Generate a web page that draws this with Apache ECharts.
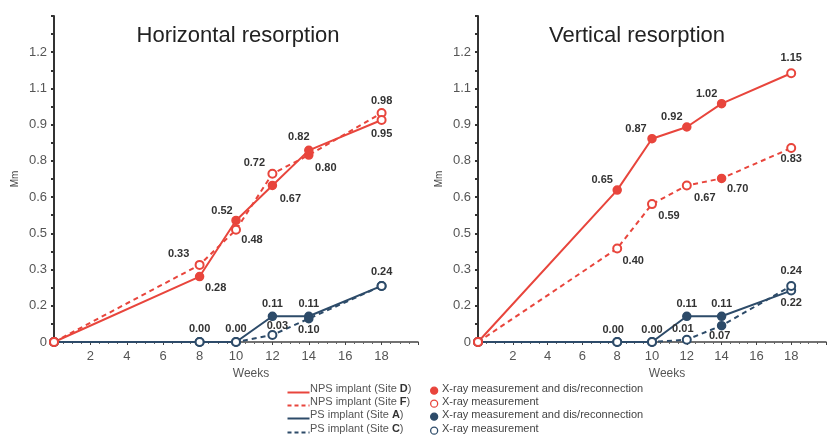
<!DOCTYPE html>
<html>
<head>
<meta charset="utf-8">
<script src="https://cdn.jsdelivr.net/npm/echarts@6/dist/echarts.min.js"></script>
<style>
  html, body { margin: 0; padding: 0; background: #fff; }
  #main { width: 829px; height: 436px; }
</style>
</head>
<body>
<div id="main"></div>
<script>
// weeks where x-ray was taken
var weeks = [0, 8, 10, 12, 14, 18];

// horizontal resorption (mm)
var hD = [0, 0.28, 0.52, 0.67, 0.82, 0.95];
var hF = [0, 0.33, 0.48, 0.72, 0.80, 0.98];
var hA = [0, 0.00, 0.00, 0.11, 0.11, 0.24];
var hC = [0, 0.00, 0.00, 0.03, 0.10, 0.24];

// vertical resorption (mm)
var vD = [0, 0.65, 0.87, 0.92, 1.02, 1.15];
var vF = [0, 0.40, 0.59, 0.67, 0.70, 0.83];
var vA = [0, 0.00, 0.00, 0.11, 0.11, 0.22];
var vC = [0, 0.00, 0.00, 0.01, 0.07, 0.24];

// 1 = x-ray measurement and dis/reconnection (filled dot)
var recD = [0, 1, 1, 1, 1, 0];
var recF = [0, 0, 0, 0, 1, 0];
var recA = [0, 0, 0, 1, 1, 0];
var recC = [0, 0, 0, 0, 1, 0];

// y tick labels as printed in the figure
var yTickLabels = ['0', '0.2', '0.3', '0.5', '0.6', '0.8', '0.9', '1.1', '1.2'];
var yStep = 0.155;

// label offsets (px) around each point, null = no label
var hOffD = [null, [16, 11], [-14, -10], [18, 14], [-10, -13], [0, 14]];
var hOffF = [null, [-21, -11], [16, 10], [-18, -11], [17, 13], [0, -12]];
var hOffA = [null, [0, -13], [0, -13], [0, -12], [0, -12], [0, -14]];
var hOffC = [null, null, null, [5, -9], [0, 11], null];
var vOffD = [null, [-15, -10], [-16, -10], [-15, -10], [-15, -10], [0, -15]];
var vOffF = [null, [16, 12], [17, 12], [18, 13], [16, 11], [0, 11]];
var vOffA = [null, [-4, -12], [0, -12], [0, -12], [0, -12], [0, 12]];
var vOffC = [null, null, null, [-4, -11], [-2, 10], [0, -15]];

var red = '#e8453c';
var navy = '#2d4b69';

var chart = echarts.init(document.getElementById('main'));

function makeData(vals, rec, off, color) {
    return vals.map(function (v, i) {
        return {
            value: [weeks[i], v],
            symbol: rec[i] ? 'circle' : 'emptyCircle',
            itemStyle: { color: color, borderColor: color, borderWidth: 1.5 },
            label: { show: !!off[i] }
        };
    });
}

function line(idx, name, vals, rec, off, color, dashed) {
    return {
        type: 'line',
        name: name,
        xAxisIndex: idx,
        yAxisIndex: idx,
        data: makeData(vals, rec, off, color),
        symbolSize: 8,
        lineStyle: { color: color, width: 2, type: dashed ? [5, 4] : 'solid' },
        label: {
            position: 'inside',
            formatter: function (p) { return p.value[1].toFixed(2); },
            fontSize: 11,
            fontWeight: 'bold',
            color: '#333',
            fontFamily: 'Liberation Sans'
        },
        labelLayout: function (p) {
            var o = off[p.dataIndex] || [0, 0];
            return { dx: o[0], dy: o[1], hideOverlap: false };
        },
        animation: false
    };
}

function xAx(idx) {
    return {
        type: 'value', gridIndex: idx, min: 0, max: 20, interval: 2,
        name: 'Weeks', nameLocation: 'middle', nameGap: 26,
        nameTextStyle: { fontSize: 12, color: '#555', padding: [0, 0, 0, 30] },
        axisLine: { lineStyle: { color: '#444', width: 1.5 } },
        axisTick: { show: true, length: 3, lineStyle: { color: '#444' } },
        minorTick: { show: true, splitNumber: 4, length: 2, lineStyle: { color: '#666' } },
        axisLabel: {
            fontSize: 13, color: '#555', margin: 8,
            formatter: function (v) { return (v === 0 || v === 20) ? '' : v; }
        },
        splitLine: { show: false }
    };
}

function yAx(idx) {
    return {
        type: 'value', gridIndex: idx, min: 0, max: yStep * 9, interval: yStep,
        name: 'Mm', nameLocation: 'middle', nameGap: 34, nameRotate: 90,
        nameTextStyle: { fontSize: 10, color: '#444' },
        axisLine: { show: true, lineStyle: { color: '#333', width: 2 } },
        axisTick: { show: true, length: 3, lineStyle: { color: '#333', width: 2 } },
        minorTick: { show: true, splitNumber: 2, length: 3, lineStyle: { color: '#333', width: 2 } },
        axisLabel: {
            fontSize: 13, color: '#555', margin: 7,
            formatter: function (v) { return yTickLabels[Math.round(v / yStep)]; }
        },
        splitLine: { show: false }
    };
}

// legend rows drawn by hand
var legendLines = [
    { text: '{n|NPS implant (Site }{b|D}{n|)}', color: red, dash: false },
    { text: '{n|NPS implant (Site }{b|F}{n|)}', color: red, dash: true },
    { text: '{n|PS implant (Site }{b|A}{n|)}', color: navy, dash: false },
    { text: '{n|PS implant (Site }{b|C}{n|)}', color: navy, dash: true }
];
var legendDots = [
    { text: 'X-ray measurement and dis/reconnection', color: red, fill: true },
    { text: 'X-ray measurement', color: red, fill: false },
    { text: 'X-ray measurement and dis/reconnection', color: navy, fill: true },
    { text: 'X-ray measurement', color: navy, fill: false }
];
var rowY = [390, 403, 416, 430];
var graphics = [];
legendLines.forEach(function (r, i) {
    graphics.push({
        type: 'line', left: 285, top: rowY[i],
        shape: { x1: 0, y1: 0, x2: 22, y2: 0 },
        style: { stroke: r.color, lineWidth: 2, lineDash: r.dash ? [4, 3] : null }
    });
    graphics.push({
        type: 'text', left: 310, top: rowY[i] - 7,
        style: {
            text: r.text,
            rich: {
                n: { fontSize: 11, fill: '#555', fontFamily: 'Liberation Sans' },
                b: { fontSize: 11, fill: '#333', fontWeight: 'bold', fontFamily: 'Liberation Sans' }
            }
        }
    });
});
legendDots.forEach(function (r, i) {
    graphics.push({
        type: 'circle', left: 430, top: rowY[i] - 3.5,
        shape: { r: 3.5 },
        style: { fill: r.fill ? r.color : '#fff', stroke: r.color, lineWidth: 1.3 }
    });
    graphics.push({
        type: 'text', left: 442, top: rowY[i] - 7,
        style: { text: r.text, fontSize: 11, fill: '#444', fontFamily: 'Liberation Sans' }
    });
});

chart.setOption({
    backgroundColor: '#fff',
    textStyle: { fontFamily: 'Liberation Sans' },
    title: [
        { text: 'Horizontal resorption', left: 233, top: 20, textAlign: 'center',
          textStyle: { fontSize: 22, fontWeight: 'normal', color: '#222' } },
        { text: 'Vertical resorption', left: 632, top: 20, textAlign: 'center',
          textStyle: { fontSize: 22, fontWeight: 'normal', color: '#222' } }
    ],
    grid: [
        { left: 54, top: 16, width: 364, height: 326 },
        { left: 478, top: 16, width: 361, height: 326 }
    ],
    xAxis: [xAx(0), xAx(1)],
    yAxis: [yAx(0), yAx(1)],
    graphic: graphics,
    series: [
        line(0, 'hA', hA, recA, hOffA, navy, false),
        line(0, 'hC', hC, recC, hOffC, navy, true),
        line(0, 'hF', hF, recF, hOffF, red, true),
        line(0, 'hD', hD, recD, hOffD, red, false),
        line(1, 'vA', vA, recA, vOffA, navy, false),
        line(1, 'vC', vC, recC, vOffC, navy, true),
        line(1, 'vF', vF, recF, vOffF, red, true),
        line(1, 'vD', vD, recD, vOffD, red, false)
    ]
});
</script>
</body>
</html>
